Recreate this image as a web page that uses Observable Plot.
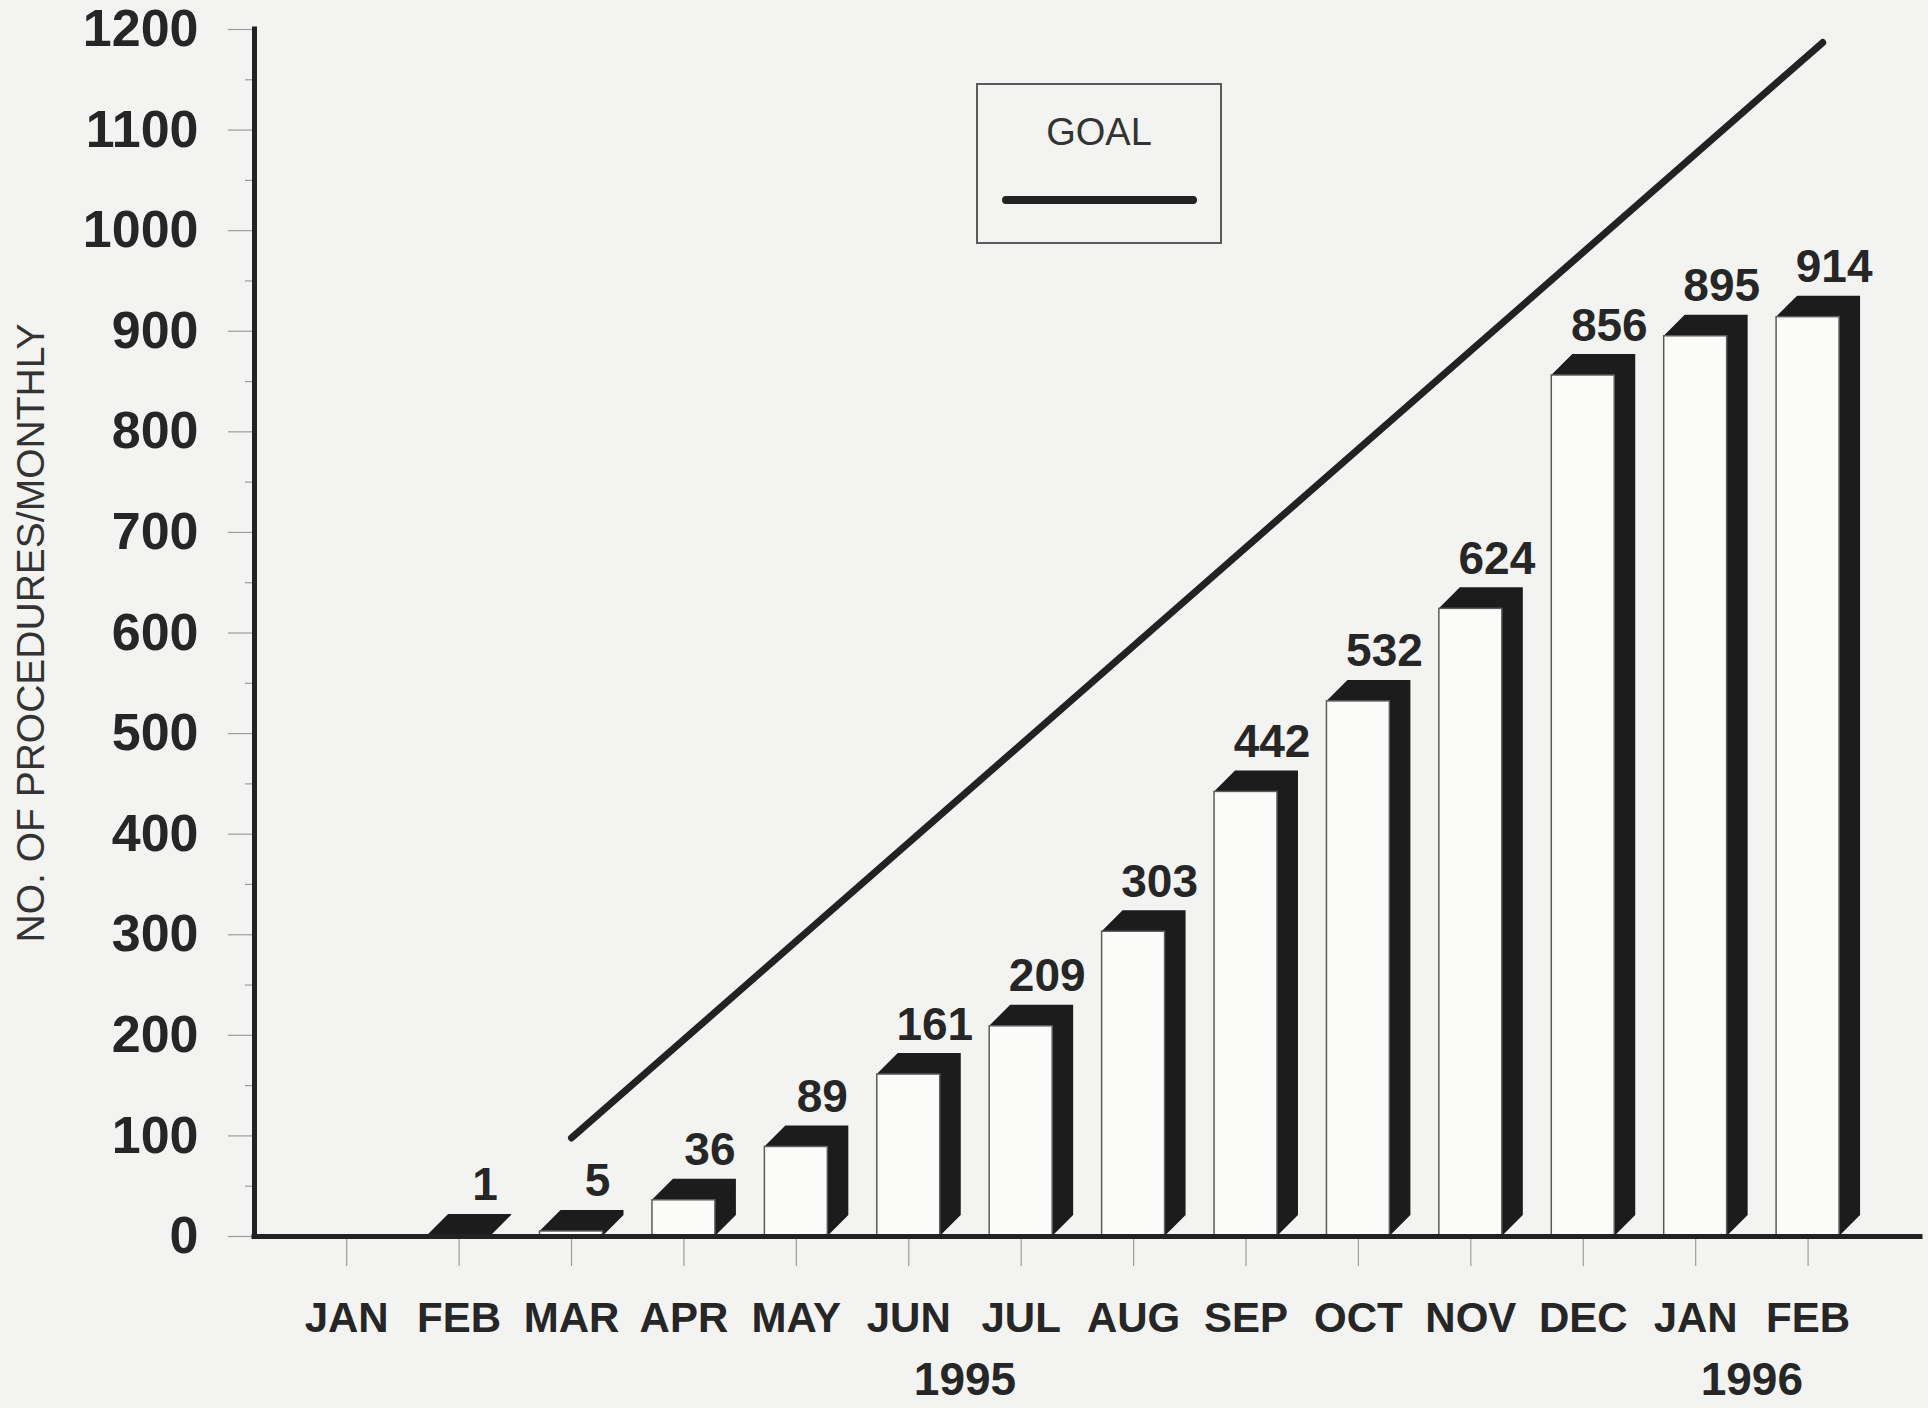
<!DOCTYPE html>
<html>
<head>
<meta charset="utf-8">
<script src="https://cdn.jsdelivr.net/npm/d3@7"></script>
<script src="https://cdn.jsdelivr.net/npm/@observablehq/plot@0.6"></script>
<style>
  html, body { margin: 0; padding: 0; background: #f3f3f1; }
  #wrap { position: relative; width: 1928px; height: 1408px; overflow: hidden; font-family: "Liberation Sans", Arial, sans-serif; }
  #legend { position: absolute; left: 976px; top: 83px; width: 246px; height: 161px; box-sizing: border-box; border: 2px solid #5a5a5a; }
  #legend .lbl { position: absolute; left: 0; right: 0; top: 28px; text-align: center; font-size: 38px; color: #333; line-height: 1; }
  #legend .swatch { position: absolute; left: 24px; width: 195px; top: 111px; height: 8px; border-radius: 4px; background: #222; }
</style>
</head>
<body>
<div id="wrap">
  <div id="chart"></div>
  <div id="legend"><div class="lbl">GOAL</div><div class="swatch"></div></div>
</div>
<script>
// ---- data ----
const months = ["JAN","FEB","MAR","APR","MAY","JUN","JUL","AUG","SEP","OCT","NOV","DEC","JAN","FEB"];
const procedures = [null, 1, 5, 36, 89, 161, 209, 303, 442, 532, 624, 856, 895, 914];
const yTicks = [0, 100, 200, 300, 400, 500, 600, 700, 800, 900, 1000, 1100, 1200];
const yMinorTicks = [50, 150, 250, 350, 450, 550, 650, 750, 850, 950, 1050, 1150];
const yearLabels = ["1995", "1996"];
const yearMonthIndex = [5.5, 12.5];       // between JUN/JUL 1995 and JAN/FEB 1996
const goalMonthIndex = [2, 13.13];        // goal line runs from MAR 1995 past FEB 1996
const goalValues = [98, 1187];
const yTitle = "NO. OF PROCEDURES/MONTHLY";

// ---- derived tables ----
const monthIdx = months.map((_, i) => i);
const bars = procedures.map((v, i) => ({i, value: v})).filter(d => d.value != null);
const goal = goalMonthIndex.map((x, k) => ({x, y: goalValues[k]}));

const DEPTH = 21;
const ink = "#262626";
const font = "Liberation Sans, Arial, sans-serif";

const chart = Plot.plot({
  width: 1928,
  height: 1408,
  marginLeft: 254,
  marginRight: 8,
  marginTop: 29,
  marginBottom: 172,
  x: {type: "linear", domain: [-0.82, 14.0], axis: null},
  y: {domain: [0, 1200], axis: null},
  style: {background: "transparent", fontFamily: font, overflow: "visible"},
  marks: [
    // y ticks (gray) and labels
    Plot.axisY({ticks: yTicks, tickSize: 26, tickFormat: () => "", color: "#9c9c9c", strokeWidth: 1.2, label: null}),
    Plot.axisY({ticks: yMinorTicks, tickSize: 9, tickFormat: () => "", color: "#9c9c9c", strokeWidth: 1.2, label: null}),
    Plot.axisY({ticks: yTicks, tickSize: 0, tickPadding: 56, tickFormat: d => String(d), fontSize: 52, fontWeight: "bold", color: ink, label: null}),
    // x ticks (gray) and month labels
    Plot.axisX({ticks: monthIdx, tickSize: 30, tickFormat: () => "", color: "#9c9c9c", strokeWidth: 1.2, label: null}),
    Plot.axisX({ticks: monthIdx, tickSize: 0, tickPadding: 66, tickFormat: i => months[i], fontSize: 42, fontWeight: "bold", color: ink, label: null}),
    // year labels
    Plot.text(yearLabels, {x: (d, k) => yearMonthIndex[k], frameAnchor: "bottom", dy: 158, lineAnchor: "bottom", text: d => d, fontSize: 46, fontWeight: "bold", fill: ink}),
    // y-axis title
    Plot.text([yTitle], {frameAnchor: "left", dx: -223, rotate: -90, textAnchor: "middle", lineAnchor: "middle", text: d => d, fontSize: 39, fill: "#333"}),
    // 3D dark top & side faces
    Plot.rect(bars, {
      x1: d => d.i - 0.28, x2: d => d.i + 0.28, y1: () => 0, y2: d => d.value,
      fill: "#1c1c1c",
      render(index, scales, values) {
        const {x1, x2, y1, y2} = values;
        const g = d3.create("svg:g").attr("fill", "#1c1c1c");
        for (const i of index) {
          const L = x1[i], R = x2[i], T = y2[i], B = y1[i], d = DEPTH;
          g.append("path").attr("d",
            `M${L},${T}L${L + d},${T - d}L${R + d},${T - d}L${R + d},${B - d}L${R},${B}L${R},${T}Z`);
        }
        return g.node();
      }
    }),
    // front faces
    Plot.rect(bars, {x1: d => d.i - 0.28, x2: d => d.i + 0.28, y1: () => 0, y2: d => d.value,
      fill: "#fbfbfa", stroke: "#5c5c5c", strokeWidth: 1.5}),
    // value labels
    Plot.text(bars, {x: d => d.i, y: d => d.value, text: d => String(d.value), dx: 26, dy: -35, lineAnchor: "bottom",
      fontSize: 46, fontWeight: "bold", fill: ink}),
    // goal line
    Plot.line(goal, {x: "x", y: "y", stroke: "#222", strokeWidth: 7, strokeLinecap: "round"}),
    // axis lines
    Plot.ruleX([-0.82], {y1: 0, y2: 1200, stroke: "#222", strokeWidth: 5, strokeLinecap: "square"}),
    Plot.ruleY([0], {stroke: "#222", strokeWidth: 5, strokeLinecap: "square"})
  ]
});
document.getElementById("chart").appendChild(chart);
</script>
</body>
</html>
